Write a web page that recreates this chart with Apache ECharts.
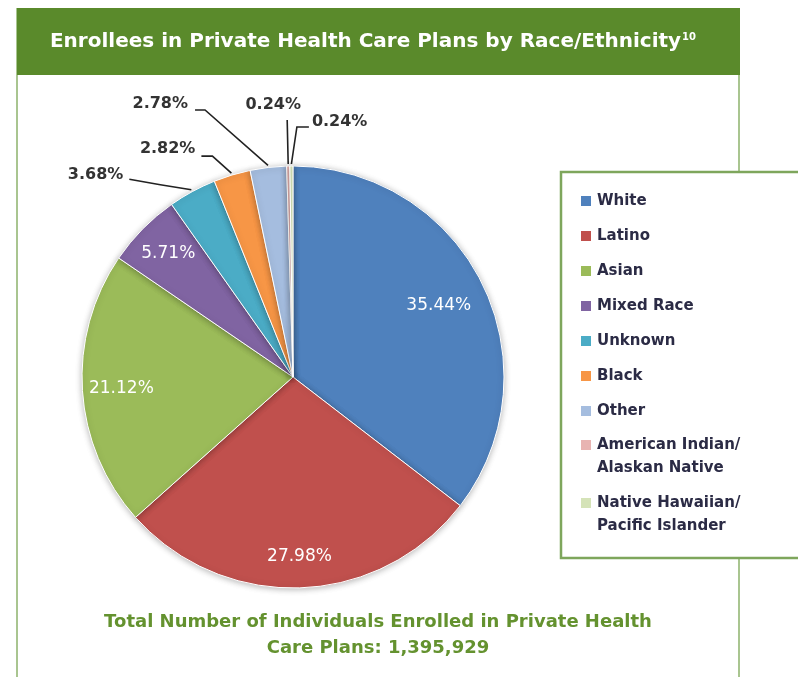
<!DOCTYPE html>
<html>
<head>
<meta charset="utf-8">
<script src="https://cdn.jsdelivr.net/npm/echarts@6/dist/echarts.min.js"></script>
<style>
  html, body { margin: 0; padding: 0; background: #ffffff; }
  #chart { width: 798px; height: 677px; }
</style>
</head>
<body>
<div id="chart"></div>
<script>
// Enrollment shares by race / ethnicity (percent of all private plan enrollees)
const categories = [
  'White', 'Latino', 'Asian', 'Mixed Race', 'Unknown', 'Black', 'Other',
  'American Indian/\nAlaskan Native', 'Native Hawaiian/\nPacific Islander'
];
const shares = [35.44, 27.98, 21.12, 5.71, 3.68, 2.82, 2.78, 0.24, 0.24];
const titleText = 'Enrollees in Private Health Care Plans by Race/Ethnicity';
const titleNote = '10';
const footerLines = [
  'Total Number of Individuals Enrolled in Private Health',
  'Care Plans: 1,395,929'
];

// ---- styling ----
const FONT = "'DejaVu Sans', Verdana, sans-serif";
const sliceColors = ['#4F81BD', '#C0504D', '#9BBB59', '#8064A2', '#4BACC6',
                     '#F79646', '#A5BDDF', '#E8B4B2', '#D5E3B8'];
const GREEN = '#5A8A2B';
const CENTER = [293, 377];
const RADIUS = 211;

// wedges whose value is printed inside, with the label distance as a fraction of the radius
const insideRatio = { 0: 0.77, 1: 0.85, 2: 0.815, 3: 0.83 };
// narrow wedges get a leader line: bend / end offsets from the rim point, text offset from the line end
const leaders = {
  4: { bend: [-31, -5],   end: [-62, -10.5], text: [-6, -4],   align: 'right' },
  5: { bend: [-19, -17],  end: [-30, -17],   text: [-6, -7],   align: 'right' },
  6: { bend: [-63, -55.5],end: [-73, -55.5], text: [-7, -6],   align: 'right' },
  7: { bend: [-0.5, -22], end: [-1, -44],    text: [-14, -15], align: 'center' },
  8: { bend: [5.5, -37],  end: [17.5, -37],  text: [3, -5],    align: 'left' }
};

const total = shares.reduce((a, b) => a + b, 0);
function midAngle(i) {
  let before = 0;
  for (let k = 0; k < i; k++) before += shares[k];
  return (before + shares[i] / 2) / total * Math.PI * 2;   // clockwise from 12 o'clock
}

const pieData = shares.map((v, i) => {
  const inside = insideRatio[i] != null;
  return {
    name: categories[i],
    value: v,
    itemStyle: { color: sliceColors[i] },
    label: inside
      ? { position: 'inside', color: '#ffffff', fontSize: 17, fontWeight: 'normal' }
      : { position: 'outside', color: '#333333', fontSize: 16, fontWeight: 'bold' },
    labelLine: { show: !inside }
  };
});

// legend: one-line names in one column block, two-line names in a second block
// (two-line names get a blank first row so the swatch sits beside the first text row)
const singleNames = categories.filter(n => n.indexOf('\n') < 0);
const doubleNames = categories.filter(n => n.indexOf('\n') >= 0);
const legendText = { fontFamily: FONT, fontSize: 15, fontWeight: 'bold', color: '#2B2B45', lineHeight: 23 };
const legendBase = {
  orient: 'vertical', left: 579, padding: 0, icon: 'rect',
  itemWidth: 12, itemHeight: 12, selectedMode: false, textStyle: legendText
};

const chart = echarts.init(document.getElementById('chart'), null, { renderer: 'canvas' });

chart.setOption({
  animation: false,
  backgroundColor: '#ffffff',
  textStyle: { fontFamily: FONT },
  graphic: [
    // panel side rules
    { type: 'line', z: 0, shape: { x1: 17, y1: 8, x2: 17, y2: 677 },
      style: { stroke: '#A9C590', lineWidth: 2 } },
    { type: 'line', z: 0, shape: { x1: 739, y1: 8, x2: 739, y2: 677 },
      style: { stroke: '#A9C590', lineWidth: 2 } },
    // heading band
    { type: 'rect', z: 1, shape: { x: 17, y: 8, width: 723, height: 67 },
      style: { fill: GREEN } },
    { type: 'text', z: 2, x: 373, y: 42,
      style: {
        text: '{t|' + titleText + '}{s|' + titleNote + '}',
        align: 'center', verticalAlign: 'middle',
        rich: {
          t: { fontFamily: FONT, fontSize: 20, fontWeight: 'bold', fill: '#ffffff' },
          s: { fontFamily: FONT, fontSize: 10, fontWeight: 'bold', fill: '#ffffff', padding: [0, 0, 10, 1] }
        }
      } },
    // legend frame
    { type: 'rect', z: 1, shape: { x: 561, y: 172, width: 260, height: 386 },
      style: { fill: '#ffffff', stroke: '#7EA65C', lineWidth: 2.5 } },
    // footer
    { type: 'text', z: 2, x: 378, y: 622,
      style: { text: footerLines[0], align: 'center', verticalAlign: 'middle',
               fontFamily: FONT, fontSize: 18, fontWeight: 'bold', fill: '#64922F' } },
    { type: 'text', z: 2, x: 378, y: 648,
      style: { text: footerLines[1], align: 'center', verticalAlign: 'middle',
               fontFamily: FONT, fontSize: 18, fontWeight: 'bold', fill: '#64922F' } }
  ],
  legend: [
    Object.assign({}, legendBase, { top: 189.5, itemGap: 12, data: singleNames }),
    Object.assign({}, legendBase, {
      top: 410.5, itemGap: -11, data: doubleNames,
      formatter: name => '\n' + name
    })
  ],
  series: [{
    type: 'pie',
    center: CENTER,
    radius: RADIUS,
    startAngle: 90,
    clockwise: true,
    avoidLabelOverlap: false,
    silent: true,
    data: pieData,
    itemStyle: {
      borderColor: '#ffffff',
      borderWidth: 1,
      shadowBlur: 6,
      shadowColor: 'rgba(0,0,0,0.28)',
      shadowOffsetY: 1
    },
    label: {
      fontFamily: FONT,
      formatter: p => shares[p.dataIndex].toFixed(2) + '%'
    },
    labelLine: { lineStyle: { color: '#222222', width: 1.6 } },
    labelLayout: function (p) {
      const i = p.dataIndex;
      const a = midAngle(i);
      const ux = Math.sin(a), uy = -Math.cos(a);
      if (insideRatio[i] != null) {
        const d = RADIUS * insideRatio[i];
        return { x: CENTER[0] + ux * d, y: CENTER[1] + uy * d, align: 'center', verticalAlign: 'middle' };
      }
      const L = leaders[i];
      const rim = [CENTER[0] + ux * (RADIUS + 2), CENTER[1] + uy * (RADIUS + 2)];
      const bend = [rim[0] + L.bend[0], rim[1] + L.bend[1]];
      const end = [rim[0] + L.end[0], rim[1] + L.end[1]];
      return {
        x: end[0] + L.text[0],
        y: end[1] + L.text[1],
        align: L.align,
        verticalAlign: 'middle',
        labelLinePoints: [rim, bend, end]
      };
    }
  }]
});
</script>
</body>
</html>
